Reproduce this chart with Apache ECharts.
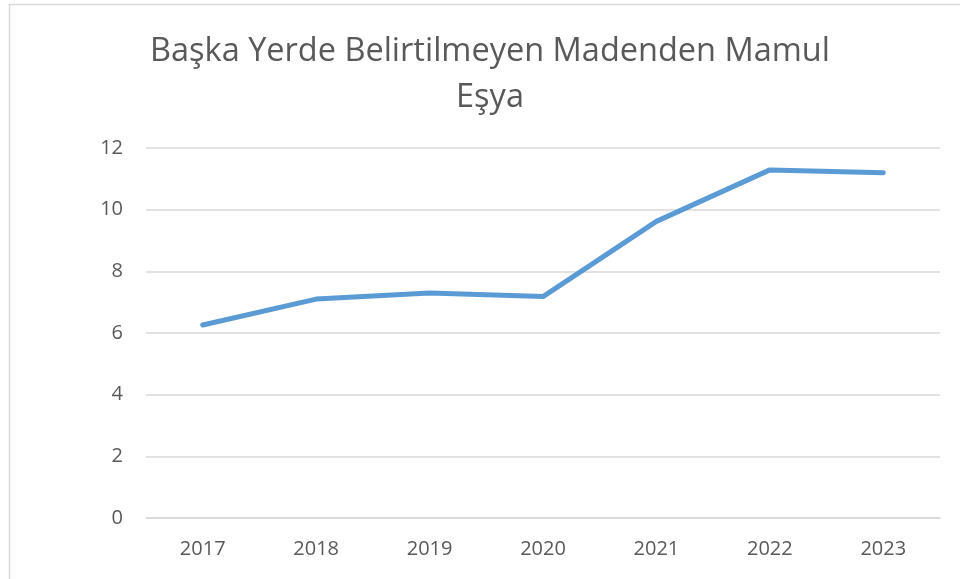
<!DOCTYPE html>
<html>
<head>
<meta charset="utf-8">
<script src="https://cdn.jsdelivr.net/npm/echarts@6/dist/echarts.min.js"></script>
<style>
  html, body { margin: 0; padding: 0; background: #fff; }
  #chart { width: 960px; height: 579px; }
</style>
</head>
<body>
<div id="chart"></div>
<script>
// veriler
var years = ['2017', '2018', '2019', '2020', '2021', '2022', '2023'];
var values = [6.26, 7.1, 7.3, 7.18, 9.62, 11.29, 11.2];
var titleText = 'Başka Yerde Belirtilmeyen Madenden Mamul\nEşya';

var myChart = echarts.init(document.getElementById('chart'));
myChart.setOption({
    animation: false,
    graphic: [{
        type: 'rect',
        shape: { x: 9.5, y: 4.5, width: 1000, height: 1000 },
        style: { fill: null, stroke: '#d9d9d9', lineWidth: 1.5 },
        silent: true
    }],
    title: {
        text: titleText,
        left: 485,
        textAlign: 'center',
        top: 24,
        textStyle: {
            fontFamily: 'Open Sans',
            fontSize: 32.5,
            fontWeight: 'normal',
            color: '#595959',
            lineHeight: 46
        }
    },
    grid: {
        left: 146,
        right: 20,
        top: 148,
        bottom: 61
    },
    xAxis: {
        type: 'category',
        data: years,
        boundaryGap: true,
        axisLine: { lineStyle: { color: '#d9d9d9', width: 1.5 } },
        axisTick: { show: false },
        axisLabel: {
            color: '#595959',
            fontFamily: 'Open Sans',
            fontSize: 20,
            margin: 21
        }
    },
    yAxis: {
        type: 'value',
        min: 0,
        max: 12,
        interval: 2,
        axisLine: { show: false },
        axisTick: { show: false },
        axisLabel: {
            color: '#595959',
            fontFamily: 'Open Sans',
            fontSize: 20,
            margin: 23
        },
        splitLine: { lineStyle: { color: '#d9d9d9', width: 1.5 } }
    },
    series: [{
        type: 'line',
        data: values,
        symbol: 'none',
        lineStyle: { color: '#5b9bd5', width: 5, cap: 'round', join: 'round' }
    }]
});
</script>
</body>
</html>
